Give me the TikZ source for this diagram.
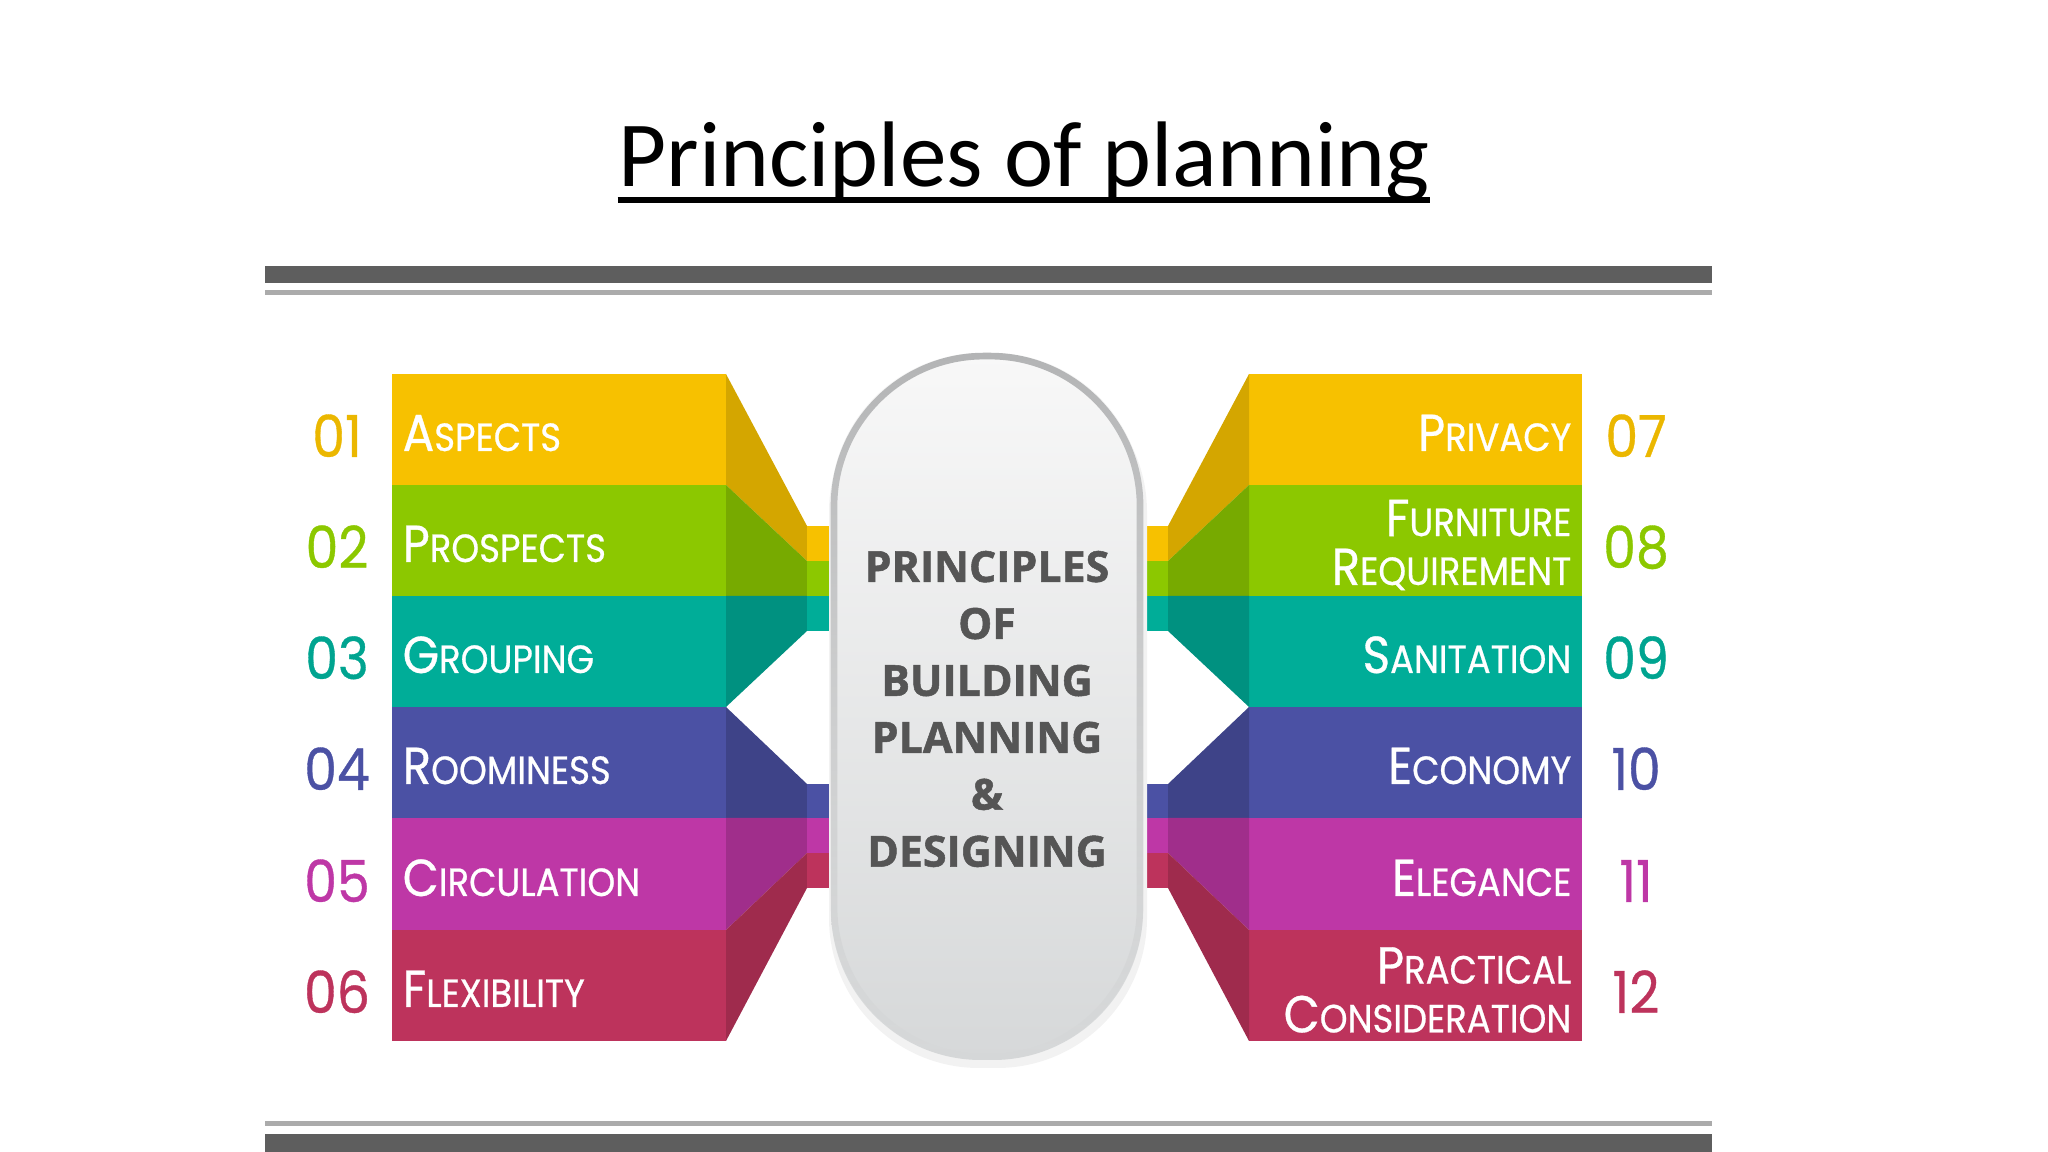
\documentclass[tikz,border=0pt]{standalone}
\usepackage{fontspec}
\usepackage{tikz}
\usetikzlibrary{positioning,fadings}

\setmainfont{Carlito}
\newfontfamily\labfont[FakeStretch=0.9,FakeBold=0.6]{Poppins}
\newfontfamily\corefont[BoldFeatures={FakeBold=1.2}]{Open Sans}

\definecolor{bardark}{HTML}{5E5E5E}
\definecolor{barlight}{HTML}{ABABAB}
\definecolor{yel}{HTML}{F7C100}
\definecolor{grn}{HTML}{8CC800}
\definecolor{tea}{HTML}{00AD98}
\definecolor{ind}{HTML}{4B51A4}
\definecolor{mag}{HTML}{BE37A6}
\definecolor{cri}{HTML}{BD335C}
\colorlet{yelD}{yel!86!black}
\colorlet{grnD}{grn!85!black}
\colorlet{teaD}{tea!84!black}
\colorlet{indD}{ind!83!black}
\colorlet{magD}{mag!84!black}
\colorlet{criD}{cri!84!black}
\definecolor{capedge}{HTML}{B3B4B5}
\definecolor{captop}{HTML}{F8F8F8}
\definecolor{capbot}{HTML}{D6D8D9}
\definecolor{capink}{HTML}{555555}

\newcommand\capword[2]{{\fontsize{14.8}{14.8}\selectfont #1}{\fontsize{11.2}{11.2}\selectfont #2}}

\tikzset{
  leftword/.style={anchor=base west, inner sep=0pt, text=white, font=\labfont},
  rightword/.style={anchor=base east, inner sep=0pt, text=white, font=\labfont},
  twoline/.style={anchor=east, inner sep=0pt, text=white, align=right,
    font=\labfont\fontsize{14.8}{13.9}\selectfont},
  numtext/.style={anchor=base, inner sep=0pt, font=\labfont\fontsize{16.5}{16.5}\selectfont}
}

\begin{document}
\begin{tikzpicture}[x=0.1mm,y=-0.1mm]
\useasboundingbox (0,0) rectangle (2048,1152) ;

\draw (1024,187) node[anchor=base, inner sep=0pt, font=\fontsize{26.5}{30}\selectfont] (title) {Principles of planning} ;
\draw[line width=1.5pt] ([yshift=-3.7pt]title.base west) -- ([yshift=-3.7pt]title.base east) ;

\fill[bardark] (265,266) rectangle (1712,283) ;
\fill[barlight] (265,290) rectangle (1712,295) ;
\fill[barlight] (265,1121) rectangle (1712,1126) ;
\fill[bardark] (265,1134) rectangle (1712,1152) ;

\fill[yel] (392,374) rectangle (726,485) ;
\fill[grn] (392,485) rectangle (726,596) ;
\fill[tea] (392,596) rectangle (726,707) ;
\fill[ind] (392,707) rectangle (726,818) ;
\fill[mag] (392,818) rectangle (726,930) ;
\fill[cri] (392,930) rectangle (726,1041) ;

\fill[yelD] (726,374) -- (807,526) -- (807,561) -- (726,485) -- cycle ;
\fill[grnD] (726,485) -- (807,561) -- (807,596) -- (726,596) -- cycle ;
\fill[teaD] (726,596) -- (807,596) -- (807,631) -- (726,707) -- cycle ;
\fill[indD] (726,707) -- (807,784) -- (807,818) -- (726,818) -- cycle ;
\fill[magD] (726,818) -- (807,818) -- (807,853) -- (726,930) -- cycle ;
\fill[criD] (726,930) -- (807,853) -- (807,888) -- (726,1041) -- cycle ;

\fill[yel] (807,526) rectangle (840,561) ;
\fill[grn] (807,561) rectangle (840,596) ;
\fill[tea] (807,596) rectangle (840,631) ;
\fill[ind] (807,784) rectangle (840,818) ;
\fill[mag] (807,818) rectangle (840,853) ;
\fill[cri] (807,853) rectangle (840,888) ;

\fill[yel] (1249,374) rectangle (1582,485) ;
\fill[grn] (1249,485) rectangle (1582,596) ;
\fill[tea] (1249,596) rectangle (1582,707) ;
\fill[ind] (1249,707) rectangle (1582,818) ;
\fill[mag] (1249,818) rectangle (1582,930) ;
\fill[cri] (1249,930) rectangle (1582,1041) ;

\fill[yelD] (1249,374) -- (1168,526) -- (1168,561) -- (1249,485) -- cycle ;
\fill[grnD] (1249,485) -- (1168,561) -- (1168,596) -- (1249,596) -- cycle ;
\fill[teaD] (1249,596) -- (1168,596) -- (1168,631) -- (1249,707) -- cycle ;
\fill[indD] (1249,707) -- (1168,784) -- (1168,818) -- (1249,818) -- cycle ;
\fill[magD] (1249,818) -- (1168,818) -- (1168,853) -- (1249,930) -- cycle ;
\fill[criD] (1249,930) -- (1168,853) -- (1168,888) -- (1249,1041) -- cycle ;

\fill[yel] (1134,526) rectangle (1168,561) ;
\fill[grn] (1134,561) rectangle (1168,596) ;
\fill[tea] (1134,596) rectangle (1168,631) ;
\fill[ind] (1134,784) rectangle (1168,818) ;
\fill[mag] (1134,818) rectangle (1168,853) ;
\fill[cri] (1134,853) rectangle (1168,888) ;

\fill[black!5, rounded corners=15mm] (829,362) rectangle (1147,1068) ;
\shade[top color=captop, bottom color=capbot, rounded corners=15mm] (831,353) rectangle (1143,1060) ;
\draw[capedge, line width=1.9pt, rounded corners=15mm, path fading=south] (834,356) rectangle (1140,1057) ;

\draw (987,709) node[align=center, text=capink, font=\corefont\bfseries\fontsize{12.2}{16.2}\selectfont] (core) {PRINCIPLES\\OF\\BUILDING\\PLANNING\\\&\\DESIGNING} ;

\draw (402,451) node[leftword] (aspects) {\capword{A}{SPECTS}} ;
\draw (402,562) node[leftword] (prospects) {\capword{P}{ROSPECTS}} ;
\draw (402,673) node[leftword] (grouping) {\capword{G}{ROUPING}} ;
\draw (402,784) node[leftword] (roominess) {\capword{R}{OOMINESS}} ;
\draw (402,896) node[leftword] (circulation) {\capword{C}{IRCULATION}} ;
\draw (402,1007) node[leftword] (flexibility) {\capword{F}{LEXIBILITY}} ;

\draw (1572,451) node[rightword] (privacy) {\capword{P}{RIVACY}} ;
\draw (1572,545) node[twoline] (furniture) {\capword{F}{URNITURE}\\\capword{R}{EQUIREMENT}} ;
\draw (1572,673) node[rightword] (sanitation) {\capword{S}{ANITATION}} ;
\draw (1572,784) node[rightword] (economy) {\capword{E}{CONOMY}} ;
\draw (1572,896) node[rightword] (elegance) {\capword{E}{LEGANCE}} ;
\draw (1572,990) node[twoline] (practical) {\capword{P}{RACTICAL}\\\capword{C}{ONSIDERATION}} ;

\draw (337,457) node[numtext, text=yel!95!black] (n01) {01} ;
\draw (337,568) node[numtext, text=grn] (n02) {02} ;
\draw (337,679) node[numtext, text=tea!95!black] (n03) {03} ;
\draw (337,790) node[numtext, text=ind] (n04) {04} ;
\draw (337,902) node[numtext, text=mag] (n05) {05} ;
\draw (337,1013) node[numtext, text=cri] (n06) {06} ;

\draw (1636,457) node[numtext, text=yel!95!black] (n07) {07} ;
\draw (1636,568) node[numtext, text=grn] (n08) {08} ;
\draw (1636,679) node[numtext, text=tea!95!black] (n09) {09} ;
\draw (1636,790) node[numtext, text=ind] (n10) {10} ;
\draw (1636,902) node[numtext, text=mag] (n11) {11} ;
\draw (1636,1013) node[numtext, text=cri] (n12) {12} ;
\end{tikzpicture}
\end{document}
